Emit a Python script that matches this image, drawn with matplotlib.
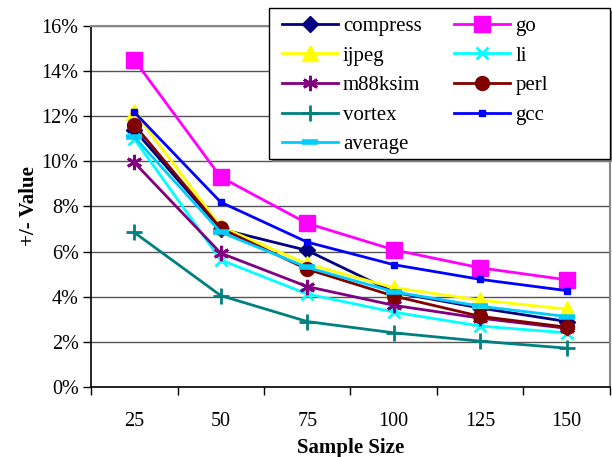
import matplotlib
matplotlib.use("Agg")
import matplotlib.pyplot as plt
from matplotlib.patches import Rectangle
from matplotlib.ticker import FuncFormatter, FixedLocator

plt.rcParams['font.family'] = ['Liberation Serif', 'DejaVu Serif']

sizes = ['25', '50', '75', '100', '125', '150']

compress = [11.4, 7.0, 6.05, 4.2, 3.5, 2.9]
go = [14.5, 9.3, 7.25, 6.08, 5.28, 4.75]
ijpeg = [12.2, 7.1, 5.45, 4.4, 3.85, 3.45]
li = [11.0, 5.63, 4.12, 3.32, 2.7, 2.4]
m88ksim = [9.95, 5.93, 4.45, 3.62, 3.05, 2.6]
perl = [11.62, 7.03, 5.22, 4.03, 3.13, 2.65]
vortex = [6.85, 4.05, 2.9, 2.4, 2.03, 1.72]
gcc = [12.18, 8.19, 6.42, 5.42, 4.77, 4.27]
average = [11.08, 6.86, 5.3, 4.22, 3.58, 3.12]

series = [
    ('compress', compress, '#000080', 'D', 8),
    ('go', go, '#FF00FF', 's', 11),
    ('ijpeg', ijpeg, '#FFFF00', '^', 11),
    ('li', li, '#00FFFF', 'x', 9),
    ('m88ksim', m88ksim, '#800080', (6, 2, 0), 11),
    ('perl', perl, '#800000', 'o', 10),
    ('vortex', vortex, '#008080', '+', 11),
    ('gcc', gcc, '#0000FF', 's', 4),
    ('average', average, '#00CCFF', '_', 12),
]

fig = plt.figure(figsize=(6.12, 4.57), dpi=100)
ax = fig.add_axes([0.1487, 0.1532, 0.848, 0.79])

x = list(range(len(sizes)))
lines = {}
for name, vals, col, mk, ms in series:
    if name == 'average':
        l, = ax.plot(x, vals, color=col, lw=2, marker=mk, ms=ms, mew=4, label=name)
    elif name in ('li', 'vortex', 'm88ksim'):
        l, = ax.plot(x, vals, color=col, lw=2, marker=mk, ms=ms, mew=2, label=name)
    else:
        l, = ax.plot(x, vals, color=col, lw=2, marker=mk, ms=ms, mec=col, label=name)
    lines[name] = l

ax.set_xlim(-0.5, 5.5)
ax.set_ylim(0, 16)
ax.set_xticks(x)
ax.set_xticklabels(sizes)
ax.xaxis.set_minor_locator(FixedLocator([i + 0.5 for i in range(-1, 6)]))
ax.tick_params(axis='x', which='major', length=0, pad=18, labelsize=14.5)
ax.tick_params(axis='x', which='minor', length=6, direction='out', width=1)
ax.set_yticks(range(0, 17, 2))
ax.yaxis.set_major_formatter(FuncFormatter(lambda v, p: '%d%%' % v))
ax.tick_params(axis='y', length=6, direction='out', width=1, labelsize=14.5, pad=3)
ax.grid(axis='y', color='#555555', lw=1)
ax.set_axisbelow(True)

for s in ('left', 'bottom'):
    ax.spines[s].set_color('black')
    ax.spines[s].set_linewidth(1.2)
ax.spines['top'].set_color('#888888')
ax.spines['top'].set_linewidth(1.5)
ax.spines['right'].set_color('#888888')
ax.spines['right'].set_linewidth(1.5)

ax.set_xlabel('Sample Size', fontsize=15, fontweight='bold', labelpad=5)
ax.set_ylabel('+/- Value', fontsize=15, fontweight='bold', labelpad=2)

# legend box drawn by hand so it keeps the wide Excel-style frame
fx0, fy0 = 269 / 612, 1 - 159 / 457
fw, fh = (610 - 269) / 612, (159 - 8) / 457
fig.patches.append(Rectangle((fx0 + 3 / 612, fy0 - 3 / 457), fw, fh, transform=fig.transFigure,
                             facecolor='#808080', edgecolor='none', zorder=5))
fig.patches.append(Rectangle((fx0, fy0), fw, fh, transform=fig.transFigure,
                             facecolor='white', edgecolor='black', lw=1, zorder=6))

# legend is filled row by row in the original
order = ['compress', 'ijpeg', 'm88ksim', 'vortex', 'average', 'go', 'li', 'perl', 'gcc']
leg = fig.legend([lines[n] for n in order], order,
                 loc='upper left', bbox_to_anchor=(fx0, 1 - 4 / 457),
                 ncol=2, fontsize=15, frameon=False,
                 borderaxespad=0, handlelength=2.7, labelspacing=0.48,
                 columnspacing=1.55, handletextpad=0.25, borderpad=0.6)
leg.set_zorder(7)

fig.savefig('out.png', dpi=100)
